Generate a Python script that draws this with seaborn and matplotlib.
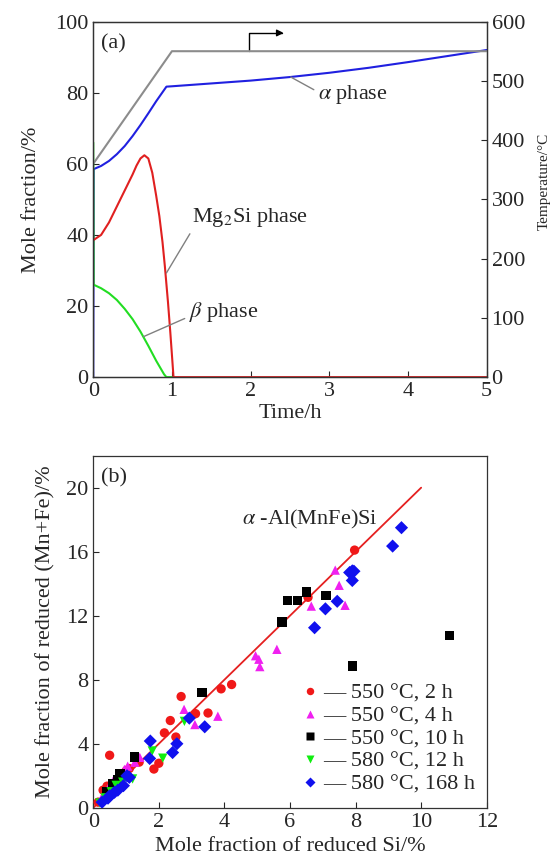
# -*- coding: utf-8 -*-
# Phase fractions vs time (a) and reduced Mn+Fe vs reduced Si (b)

import pandas as pd
import matplotlib.pyplot as plt
import seaborn as sns

# ---- panel (a) data ----
alpha_t = [0, 0.005, 0.1, 0.2, 0.3, 0.4, 0.5, 0.6, 0.7, 0.8, 0.93, 1.0, 1.5, 2.0, 2.5, 3.0, 3.5, 4.0, 4.5, 5.0]
alpha_y = [0, 58.5, 59.4, 60.8, 62.7, 65.0, 67.8, 70.9, 74.2, 77.6, 81.7, 81.8, 82.6, 83.4, 84.4, 85.6, 87.0, 88.6, 90.3, 92.0]
mg2si_t = [0, 0.1, 0.2, 0.3, 0.4, 0.5, 0.55, 0.6, 0.65, 0.7, 0.75, 0.8, 0.84, 0.88, 0.91, 0.95, 0.98, 1.02, 5.0]
mg2si_y = [38.5, 40.0, 43.5, 48.0, 52.5, 57.0, 59.5, 61.5, 62.4, 61.5, 57.5, 51.0, 45.3, 38.0, 31.2, 21.0, 12.4, 0, 0]
beta_t = [0, 0.005, 0.1, 0.2, 0.3, 0.4, 0.5, 0.6, 0.7, 0.8, 0.9, 0.93, 1.0]
beta_y = [66, 26.0, 25.0, 23.6, 21.7, 19.2, 16.3, 12.8, 8.8, 4.6, 0.8, 0, 0]
temp_t = [0, 1.0, 5.0]
temp_c = [360, 550, 550]

# ---- panel (b) data ----
conds = ['550 °C, 2 h', '550 °C, 4 h', '550 °C, 10 h', '580 °C, 12 h', '580 °C, 168 h']
si_2h = [0.15, 0.3, 0.42, 0.5, 0.62, 0.85, 1.0, 1.1, 1.4, 1.85, 2.0, 2.17, 2.35, 2.52, 2.68, 3.12, 3.5, 3.9, 4.22, 6.55, 7.97]
mf_2h = [0.35, 1.1, 1.35, 3.28, 1.5, 1.9, 2.3, 2.45, 2.85, 2.42, 2.78, 4.68, 5.45, 4.42, 6.95, 5.88, 5.92, 7.43, 7.7, 13.15, 16.1]
si_4h = [0.25, 0.45, 0.6, 0.95, 1.05, 1.27, 1.42, 2.77, 3.1, 3.8, 4.95, 5.05, 5.08, 5.6, 6.65, 7.38, 7.5, 7.68]
mf_4h = [0.6, 1.2, 1.65, 2.4, 2.6, 2.85, 3.15, 6.15, 5.2, 5.72, 9.5, 9.28, 8.82, 9.9, 12.6, 14.85, 13.9, 12.65]
si_10h = [0.4, 0.6, 0.75, 0.82, 1.25, 3.32, 5.76, 5.92, 6.22, 6.5, 7.1, 7.9, 10.87]
mf_10h = [1.0, 1.5, 1.75, 2.1, 3.18, 7.22, 11.6, 12.94, 12.94, 13.48, 13.25, 8.85, 10.77]
si_12h = [0.2, 0.36, 0.55, 0.7, 0.9, 1.2, 1.8, 2.12, 2.78]
mf_12h = [0.3, 0.62, 1.0, 1.4, 1.6, 1.8, 3.55, 3.1, 5.4]
si_168h = [0.27, 0.45, 0.5, 0.65, 0.75, 0.92, 1.03, 1.1, 1.72, 1.74, 2.42, 2.55, 2.93, 3.4,
           6.75, 7.08, 7.44, 7.82, 7.9, 7.95, 7.9, 9.13, 9.4]
mf_168h = [0.35, 0.6, 0.75, 0.97, 1.1, 1.38, 2.0, 1.9, 3.08, 4.17, 3.45, 4.0, 5.6, 5.06,
           11.25, 12.43, 12.9, 14.7, 14.8, 14.78, 14.2, 16.35, 17.5]
fit_x = [0, 10]
fit_y = [0, 20]

sns.set_style('ticks')
plt.rcParams['font.family'] = ['Liberation Serif', 'DejaVu Serif']
plt.rcParams['mathtext.fontset'] = 'stix'
plt.rcParams['font.size'] = 16
plt.rcParams['xtick.direction'] = 'in'
plt.rcParams['ytick.direction'] = 'in'

fig = plt.figure(figsize=(5.55, 8.63), dpi=100)
ax1 = fig.add_axes([0.168, 0.563, 0.709, 0.412])
ax2 = fig.add_axes([0.168, 0.064, 0.709, 0.408])

# ---------------- (a) ----------------
sns.lineplot(x=alpha_t, y=alpha_y, ax=ax1, color='#2020e0', lw=1.5, sort=False, estimator=None)
sns.lineplot(x=beta_t, y=beta_y, ax=ax1, color='#22dd22', lw=1.5, sort=False, estimator=None)
sns.lineplot(x=mg2si_t, y=mg2si_y, ax=ax1, color='#e02020', lw=1.5, sort=False, estimator=None)
ax1.set_xlim(0, 5)
ax1.set_ylim(0, 100)
ax1.set_xticks(range(0, 6))
ax1.set_yticks(range(0, 101, 20))
ax1.set_xlabel('Time/h', fontsize=16, labelpad=2)
ax1.set_ylabel('Mole fraction/%', fontsize=16, labelpad=10)
ax1.tick_params(length=4, width=0.8, labelsize=16)

ax1t = ax1.twinx()
sns.lineplot(x=temp_t, y=temp_c, ax=ax1t, color='#8c8c8c', lw=1.5, sort=False, estimator=None)
ax1t.set_ylim(0, 600)
ax1t.set_yticks(range(0, 601, 100))
ax1t.tick_params(direction='in', length=4, width=0.8, labelsize=16)
ax1t.set_ylabel('Temperature/°C', fontsize=11)
ax1t.yaxis.set_label_coords(1.13, 0.55)

ax1.text(0.02, 0.965, '(a)', transform=ax1.transAxes, fontsize=16, va='top')
lead = dict(arrowstyle='-', color='#808080', lw=1.0, shrinkA=1, shrinkB=0)
ax1.annotate(r'$\alpha$ phase', xy=(2.51, 84.4), xytext=(2.86, 79.5), fontsize=16, va='center',
             arrowprops=dict(lead, relpos=(0, 0.6)))
ax1.annotate(r'Mg$_2$Si phase', xy=(0.93, 29.3), xytext=(1.25, 44.8), fontsize=16, va='center',
             arrowprops=dict(lead, relpos=(0.02, 0.1)))
ax1.annotate(r'$\beta$ phase', xy=(0.64, 11.4), xytext=(1.22, 18.4), fontsize=16, va='center',
             arrowprops=dict(lead, relpos=(0, 0.3)))
ax1.annotate('', xy=(2.42, 96.8), xytext=(1.98, 91.7),
             arrowprops=dict(arrowstyle='-|>', color='black', lw=1.0, mutation_scale=10,
                             shrinkA=0, shrinkB=0,
                             connectionstyle='angle,angleA=90,angleB=0,rad=0'))

# ---------------- (b) ----------------
frames = []
for c, xs, ys in zip(conds, [si_2h, si_4h, si_10h, si_12h, si_168h],
                     [mf_2h, mf_4h, mf_10h, mf_12h, mf_168h]):
    frames.append(pd.DataFrame({'si': xs, 'mnfe': ys, 'cond': c}))
df = pd.concat(frames, ignore_index=True)

palette = dict(zip(conds, ['#f01818', '#f020f0', '#000000', '#10ee10', '#1010ee']))
markers = dict(zip(conds, ['o', '^', 's', 'v', 'D']))
sns.lineplot(x=fit_x, y=fit_y, ax=ax2, color='#e52020', lw=1.3)
sns.scatterplot(data=df, x='si', y='mnfe', hue='cond', style='cond', hue_order=conds,
                style_order=conds, palette=palette, markers=markers, s=45,
                edgecolor='none', ax=ax2, zorder=3)
ax2.set_xlim(0, 12)
ax2.set_ylim(0, 22)
ax2.set_xticks(range(0, 13, 2))
ax2.set_yticks(range(0, 21, 4))
ax2.set_xlabel('Mole fraction of reduced Si/%', fontsize=16, labelpad=4)
ax2.set_ylabel('Mole fraction of reduced (Mn+Fe)/%', fontsize=16, labelpad=8)
ax2.tick_params(length=4, width=0.8, labelsize=16)
ax2.text(0.02, 0.965, '(b)', transform=ax2.transAxes, fontsize=16, va='top')
ax2.text(4.55, 18.0, r'$\alpha$ -Al(MnFe)Si', fontsize=16, va='center')

handles, labels = ax2.get_legend_handles_labels()
ax2.legend(handles, ['— ' + l for l in labels], loc='lower left', bbox_to_anchor=(0.5, 0.012),
           frameon=False, handletextpad=0.1, labelspacing=0.1, markerscale=0.8,
           handlelength=1.0, borderaxespad=0, fontsize=16)

for a in (ax1, ax1t, ax2):
    for sp in a.spines.values():
        sp.set_linewidth(0.9)
        sp.set_color('#333333')

fig.savefig('out.png', dpi=100)
